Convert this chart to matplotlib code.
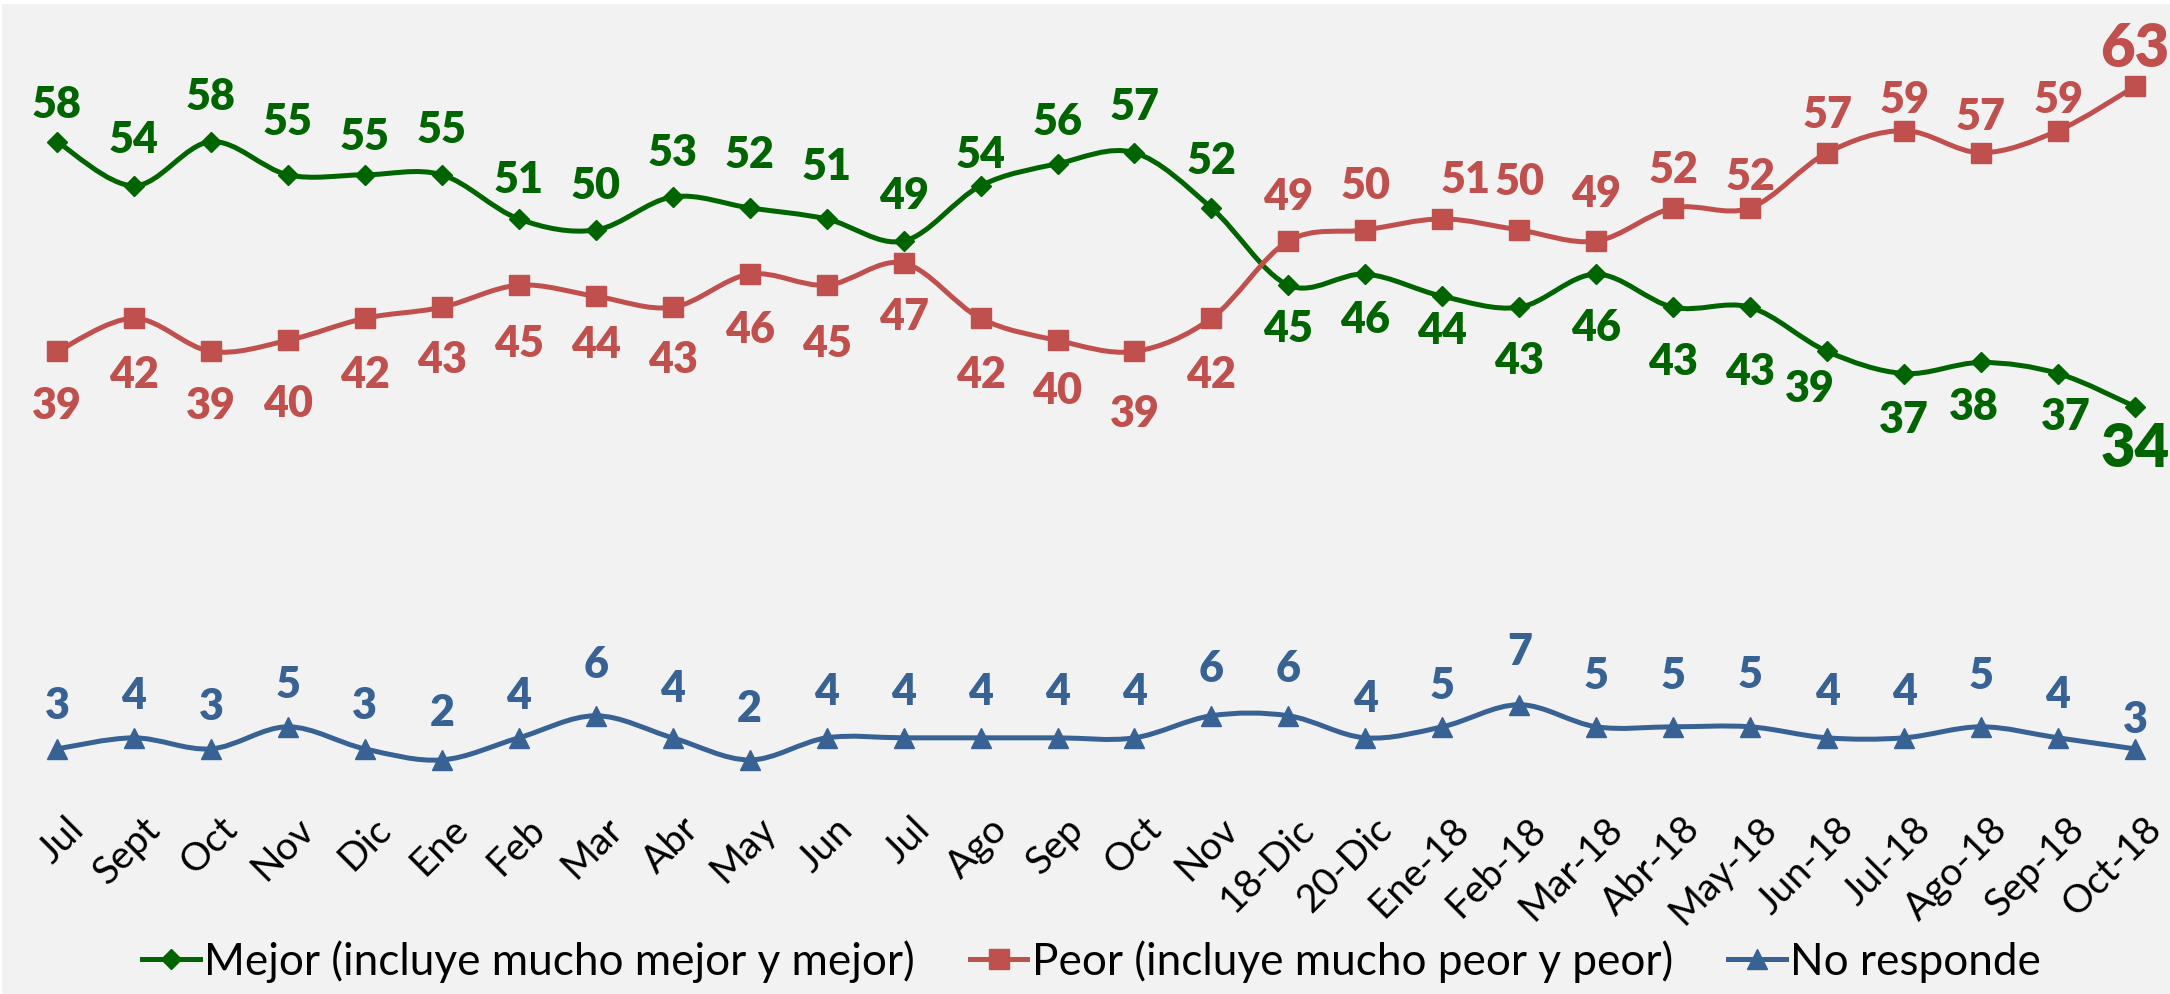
import matplotlib
matplotlib.use("Agg")
import matplotlib.pyplot as plt
from matplotlib.path import Path
from matplotlib.patches import PathPatch, Rectangle
from matplotlib.lines import Line2D
from matplotlib.transforms import ScaledTranslation
import numpy as np

# ---------------- data ----------------
categories = ["Jul", "Sept", "Oct", "Nov", "Dic", "Ene", "Feb", "Mar", "Abr", "May",
              "Jun", "Jul", "Ago", "Sep", "Oct", "Nov", "18-Dic", "20-Dic", "Ene-18",
              "Feb-18", "Mar-18", "Abr-18", "May-18", "Jun-18", "Jul-18", "Ago-18",
              "Sep-18", "Oct-18"]
mejor = [58, 54, 58, 55, 55, 55, 51, 50, 53, 52, 51, 49, 54, 56, 57, 52,
         45, 46, 44, 43, 46, 43, 43, 39, 37, 38, 37, 34]
peor = [39, 42, 39, 40, 42, 43, 45, 44, 43, 46, 45, 47, 42, 40, 39, 42,
        49, 50, 51, 50, 49, 52, 52, 57, 59, 57, 59, 63]
no_responde = [3, 4, 3, 5, 3, 2, 4, 6, 4, 2, 4, 4, 4, 4, 4, 6,
               6, 4, 5, 7, 5, 5, 5, 4, 4, 5, 4, 3]
series_names = ["Mejor (incluye mucho mejor y mejor)",
                "Peor (incluye mucho peor y peor)",
                "No responde"]

# ---------------- label layout (pixels, + = up) ----------------
mejor_dy = [38, 47, 46, 54, 39, 46, 40, 45, 45, 54, 53, 46, 32, 43, 47, 48,
            -43, -45, -34, -53, -53, -54, -64, -37, -45, -44, -42, -42]
peor_dy = [-54, -56, -54, -63, -56, -52, -58, -48, -52, -55, -58, -53, -56, -50, -62, -56,
           45, 45, 40, 49, 48, 39, 32, 39, 32, 37, 32, 38]
nr_dy = [44, 43, 43, 43, 44, 48, 43, 52, 50, 52, 47, 47, 47, 47, 47, 48,
         48, 40, 42, 54, 52, 52, 53, 47, 47, 52, 44, 30]
mejor_dx = {18: 0, 23: -17, 25: -7, 26: 8}
peor_dx = {18: 23}

GREEN = "#006400"
RED = "#C0504D"
BLUE = "#386194"
BG = "#F2F2F2"

FONT = ["Lato", "DejaVu Sans"]
plt.rcParams["font.family"] = FONT

W, H, DPI = 2170, 995, 100
fig = plt.figure(figsize=(W / DPI, H / DPI), dpi=DPI)
fig.patch.set_facecolor("white")
fig.add_artist(Rectangle((2 / W, 0), 1, 1 - 5 / H, transform=fig.transFigure,
                         facecolor=BG, edgecolor="none", zorder=-10))

# axes placement: value 0 at pixel row 783, 11.04 px per unit
y0_px = 783
px_per_unit = 11.04
ymax = 70
ax_h = ymax * px_per_unit
ax = fig.add_axes([0, (H - y0_px) / H, 1, ax_h / H])
ax.set_facecolor("none")
x_first, x_last = 57, 2135
step = (x_last - x_first) / (len(categories) - 1)
ax.set_xlim(-x_first / step, len(categories) - 1 + (W - x_last) / step)
ax.set_ylim(0, ymax)
for s in ax.spines.values():
    s.set_visible(False)
ax.set_yticks([])

x = np.arange(len(categories))


def smooth_path(xs, ys):
    pts = np.column_stack([xs, ys]).astype(float)
    n = len(pts)
    verts = [pts[0]]
    codes = [Path.MOVETO]
    for i in range(n - 1):
        p0 = pts[i - 1] if i > 0 else pts[i]
        p1 = pts[i]
        p2 = pts[i + 1]
        p3 = pts[i + 2] if i + 2 < n else pts[i + 1]
        verts += [p1 + (p2 - p0) / 6.0, p2 - (p3 - p1) / 6.0, p2]
        codes += [Path.CURVE4] * 3
    return Path(verts, codes)


styles = [
    (mejor, GREEN, "D", 10.5, mejor_dy, mejor_dx),
    (peor, RED, "s", 14.0, peor_dy, peor_dx),
    (no_responde, BLUE, "^", 15.0, nr_dy, {}),
]

LW = 3.6
handles = []
for (vals, col, mk, ms, dys, dxs), name in zip(styles, series_names):
    ax.add_patch(PathPatch(smooth_path(x, vals), facecolor="none", edgecolor=col,
                           lw=LW, capstyle="round", joinstyle="round", zorder=2))
    ax.plot(x, vals, linestyle="none", marker=mk, markersize=ms, color=col,
            markeredgecolor=col, zorder=3)
    for i, v in enumerate(vals):
        big = (i == len(vals) - 1 and vals is not no_responde)
        ax.annotate(str(v), (x[i], v),
                    xytext=(dxs.get(i, 0) * 0.72, dys[i] * 0.72),
                    textcoords="offset points", ha="center", va="center",
                    color=col, fontsize=43 if big else 31, fontweight="heavy",
                    zorder=4)
    handles.append(Line2D([0], [0], color=col, lw=LW, marker=mk, markersize=ms,
                          markeredgecolor=col))

ax.set_xticks(x)
ax.set_xticklabels(categories, rotation=45, ha="right", va="top",
                   rotation_mode="anchor", fontsize=28, color="black")
ax.tick_params(axis="x", length=0, pad=20)
for lab in ax.get_xticklabels():
    lab.set_transform(lab.get_transform() + ScaledTranslation(8 / DPI, 0, fig.dpi_scale_trans))

fig.legend(handles, series_names, loc="center", bbox_to_anchor=(0.503, 1 - 962 / H),
           ncol=3, frameon=False, fontsize=31.8, handlelength=1.3, handletextpad=0.1,
           columnspacing=1.25, borderaxespad=0)

fig.savefig("out.png", dpi=DPI, facecolor=fig.get_facecolor())
